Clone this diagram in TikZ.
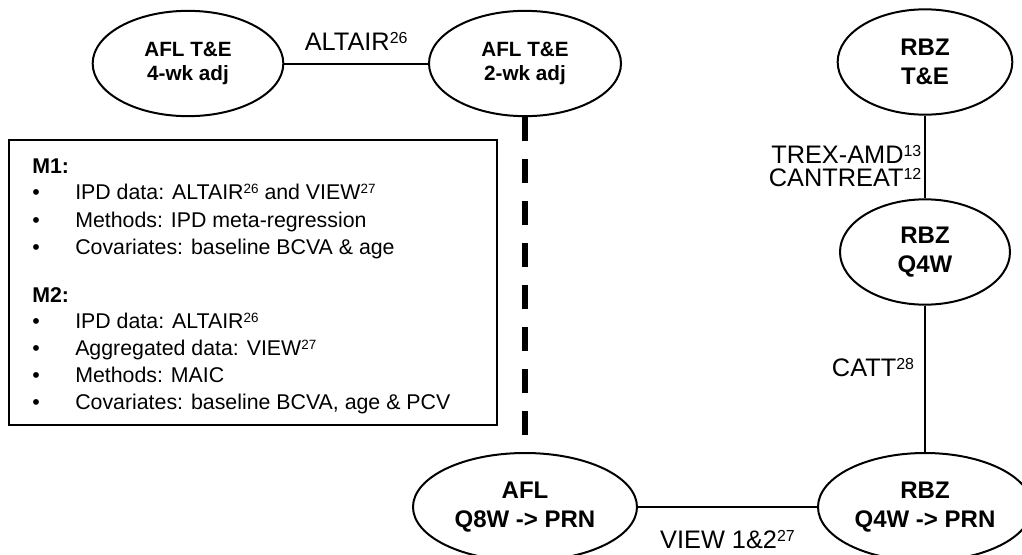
\documentclass[tikz,border=0pt]{standalone}
\usepackage{fontspec}
\setmainfont{Liberation Sans}
\usetikzlibrary{shapes.geometric, positioning}
\tikzset{
  arm/.style = {ellipse, draw=black, line width=1.5pt, inner sep=0pt, align=center,
    minimum height=79pt, font=\bfseries\fontsize{18}{22}\selectfont},
  armsmall/.style = {arm, font=\bfseries\fontsize{15.5}{18}\selectfont},
  link/.style = {line width=1.5pt},
  divide/.style = {line width=4.5pt, dash pattern=on 18pt off 13.5pt},
  lbl/.style = {inner sep=0pt, align=right, font=\fontsize{19}{17.3}\selectfont},
  notebox/.style = {rectangle, draw=black, line width=1.5pt, minimum width=366pt, minimum height=213.75pt},
  notetext/.style = {inner sep=0pt, align=left, font=\fontsize{16}{20.4}\selectfont}
}
\newcommand{\bul}{\makebox[32.25pt][l]{\textbullet}}
\newcommand{\sups}[1]{\raisebox{0.28em}{\scalebox{0.63}{#1}}}

\begin{document}
\begin{tikzpicture}[x=0.75pt, y=-0.75pt]
  \useasboundingbox (0,0) rectangle (1022,554);
  \clip (0,0) rectangle (1022,554);

  % treatment arms
  \node (aflFour) [armsmall, minimum width=143pt] at (188,63.5) {AFL T\&E\\4-wk adj};
  \node (aflTwo) [armsmall, minimum width=144pt] at (525,63.5) {AFL T\&E\\2-wk adj};
  \node (rbzTE) [arm, minimum width=131pt] at (925,62) {RBZ\\T\&E};
  \node (rbzQ4) [arm, minimum width=127.5pt] at (925,252) {RBZ\\Q4W};
  \node (aflPrn) [arm, minimum width=168pt, minimum height=81pt] at (525,507) {AFL\\Q8W -> PRN};
  \node (rbzPrn) [arm, minimum width=160.5pt, minimum height=81pt] at (925,507) {RBZ\\Q4W -> PRN};

  % method box
  \node (notesBox) [notebox] at (253,282.5) {};
  \node (notes) [notetext, below right=15pt and 18pt of notesBox.north west] {%
    \textbf{M1:}\\[-1pt]
    \bul IPD data: ALTAIR\sups{26} and VIEW\sups{27}\\
    \bul Methods: IPD meta-regression\\
    \bul Covariates: baseline BCVA \& age\\[15.6pt]
    \textbf{M2:}\\[-1pt]
    \bul IPD data: ALTAIR\sups{26}\\
    \bul Aggregated data: VIEW\sups{27}\\
    \bul Methods: MAIC\\
    \bul Covariates: baseline BCVA, age \& PCV};

  % connections
  \draw [link] (aflFour) -- node (altairLbl) [lbl, above=9pt] {ALTAIR\sups{26}} (aflTwo);
  \draw [link] (rbzTE) -- node (trexLbl) [lbl, left=2pt, yshift=-6.75pt] {TREX-AMD\sups{13}\\CANTREAT\sups{12}} (rbzQ4);
  \draw [link] (rbzQ4) -- node (cattLbl) [lbl, left=7.5pt, yshift=8.8pt] {CATT\sups{28}} (rbzPrn);
  \draw [link] (aflPrn) -- node (viewLbl) [lbl, below=17pt] {VIEW 1\&2\sups{27}} (rbzPrn);
  \draw [divide] (aflTwo) -- (aflPrn);
\end{tikzpicture}
\end{document}
